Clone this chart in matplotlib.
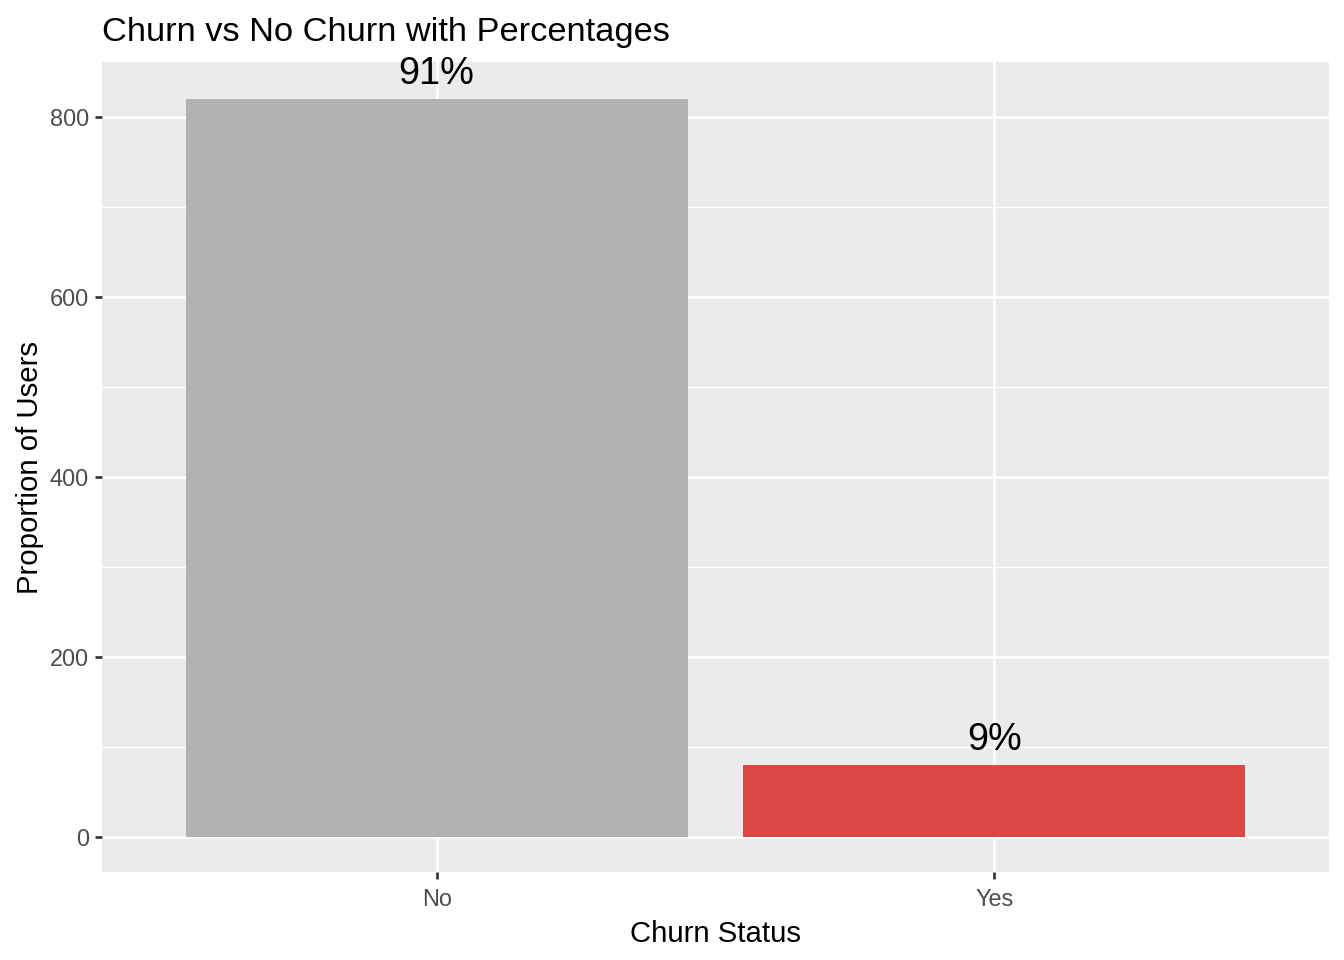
import matplotlib.pyplot as plt
from matplotlib.ticker import MultipleLocator

plt.rcParams["font.family"] = ["Liberation Sans", "DejaVu Sans"]

# data
churn_status = ["No", "Yes"]
user_counts = [820, 80]
bar_colors = ["#B2B2B2", "#DB4945"]

total = sum(user_counts)
pct_labels = [f"{round(c / total * 100)}%" for c in user_counts]

fig = plt.figure(figsize=(7, 5), dpi=192)
ax = fig.add_axes([102 / 1344, 1 - 872 / 960, (1329 - 102) / 1344, (872 - 62) / 960])

ax.set_facecolor("#EBEBEB")
for side in ax.spines.values():
    side.set_visible(False)

x_pos = list(range(1, len(churn_status) + 1))
ax.bar(x_pos, user_counts, width=0.9, color=bar_colors, zorder=2)

for x, y, lab in zip(x_pos, user_counts, pct_labels):
    ax.annotate(lab, (x, y), xytext=(0, 9.2), textcoords="offset points",
                ha="center", va="center", fontsize=14.2, color="black", zorder=3)

ax.set_xlim(0.4, 2.6)
ax.set_ylim(-38.9, 861)
ax.set_xticks(x_pos)
ax.set_xticklabels(churn_status)
ax.yaxis.set_major_locator(MultipleLocator(200))
ax.yaxis.set_minor_locator(MultipleLocator(100))

ax.grid(which="major", color="white", linewidth=1.0, zorder=1)
ax.grid(which="minor", axis="y", color="white", linewidth=0.5, zorder=1)
ax.set_axisbelow(True)

ax.tick_params(which="major", length=2.75, width=1.0, color="#333333",
               labelsize=8.8, labelcolor="#4D4D4D")
ax.tick_params(axis="x", pad=3.2)
ax.tick_params(axis="y", pad=2.2)
ax.tick_params(which="minor", length=0)

ax.set_xlabel("Churn Status", fontsize=11, labelpad=3.5)
ax.set_ylabel("Proportion of Users", fontsize=11, labelpad=2)
ax.set_title("Churn vs No Churn with Percentages", fontsize=12.9, loc="left", pad=8)

fig.savefig("out.png", dpi=192)
